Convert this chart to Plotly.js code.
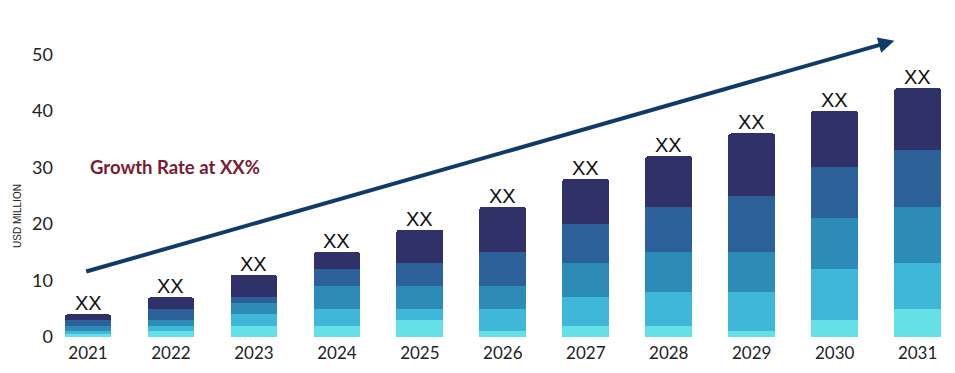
<!DOCTYPE html>
<html>
<head>
<meta charset="utf-8">
<script src="https://cdn.plot.ly/plotly-3.0.1.min.js"></script>
<style>html,body{margin:0;padding:0;background:#fff;}#chart{width:955px;height:373px;}</style>
</head>
<body>
<div id="chart"></div>
<script>
// Data (USD million, stacked segments bottom -> top)
var years = ["2021","2022","2023","2024","2025","2026","2027","2028","2029","2030","2031"];
var seg1 = [0.5, 1, 2, 2, 3, 1, 2, 2, 1, 3, 5];     // lightest cyan (bottom)
var seg2 = [0.5, 1, 2, 3, 2, 4, 5, 6, 7, 9, 8];     // light blue
var seg3 = [1, 1, 2, 4, 4, 4, 6, 7, 7, 9, 10];      // mid blue
var seg4 = [1, 2, 1, 3, 4, 6, 7, 8, 10, 9, 10];     // blue
var seg5 = [1, 2, 4, 3, 6, 8, 8, 9, 11, 10, 11];    // navy (top)
var barLabels = ["XX","XX","XX","XX","XX","XX","XX","XX","XX","XX","XX"];
var yTicks = [0, 10, 20, 30, 40, 50];
var growthText = "Growth Rate at XX%";
var yTitle = "USD MILLION";
// arrow endpoints (category index, value)
var arrowStart = [-0.04, 11.5];
var arrowEnd = [9.72, 52.4];

var colors = ["#66e0e7", "#3fb7d8", "#2d8bb8", "#2c6099", "#2f3168"];
var segs = [seg1, seg2, seg3, seg4, seg5];

var traces = segs.map(function(s, i) {
  return {
    type: "bar",
    x: years,
    y: s,
    marker: {color: colors[i], line: {width: 0}},
    hoverinfo: "skip",
    showlegend: false
  };
});

var totals = years.map(function(_, j) {
  return segs.reduce(function(acc, s) { return acc + s[j]; }, 0);
});

var annotations = years.map(function(yr, j) {
  return {
    x: j, y: totals[j], xref: "x", yref: "y",
    text: barLabels[j], showarrow: false,
    yanchor: "bottom", yshift: -2,
    font: {family: "Liberation Sans, Arial, sans-serif", size: 20, color: "#111111"}
  };
});

annotations.push({
  x: arrowEnd[0], y: arrowEnd[1], ax: arrowStart[0], ay: arrowStart[1],
  xref: "x", yref: "y", axref: "x", ayref: "y",
  text: "", showarrow: true, arrowhead: 2, arrowsize: 0.8, arrowwidth: 4,
  arrowcolor: "#0f3b68", standoff: 0, startstandoff: 0
});

annotations.push({
  x: 0, y: 30, xref: "x", yref: "y", xshift: 0,
  text: "<b>" + growthText + "</b>", showarrow: false,
  xanchor: "left", yanchor: "middle",
  font: {family: "Lato, sans-serif", size: 18.5, color: "#7a1b33"}
});

annotations.push({
  x: 0, y: 0, xref: "paper", yref: "paper",
  text: yTitle, showarrow: false, textangle: -90,
  font: {family: "Liberation Sans, Arial, sans-serif", size: 10, color: "#222222"}
});

var W = 955, H = 373;

var layout = {
  width: W, height: H,
  margin: {l: 54, r: 10, t: 26, b: 36, pad: 0},
  paper_bgcolor: "#ffffff", plot_bgcolor: "#ffffff",
  barmode: "stack",
  bargap: 0.436,
  barcornerradius: 3,
  showlegend: false,
  xaxis: {
    type: "category",
    range: [-0.41, 10.33],
    showgrid: false, zeroline: false, showline: false, ticks: "",
    ticklabelstandoff: 4,
    tickfont: {family: "Lato, sans-serif", size: 17, color: "#222222"},
    fixedrange: true
  },
  yaxis: {
    range: [0, 55],
    tickvals: yTicks,
    showgrid: false, zeroline: false, showline: false, ticks: "",
    tickfont: {family: "Lato, sans-serif", size: 18, color: "#222222"},
    fixedrange: true
  },
  annotations: annotations
};

// place y-title using paper fractions from pixel positions
(function() {
  var a = layout.annotations[layout.annotations.length - 1];
  var plotW = W - layout.margin.l - layout.margin.r;
  var plotH = H - layout.margin.t - layout.margin.b;
  a.x = (14 - layout.margin.l) / plotW;
  a.xanchor = "center";
  a.y = (H - layout.margin.b - 216) / plotH;
  a.xshift = 3;
})();

Plotly.newPlot("chart", traces, layout, {staticPlot: true, displayModeBar: false});
</script>
</body>
</html>
